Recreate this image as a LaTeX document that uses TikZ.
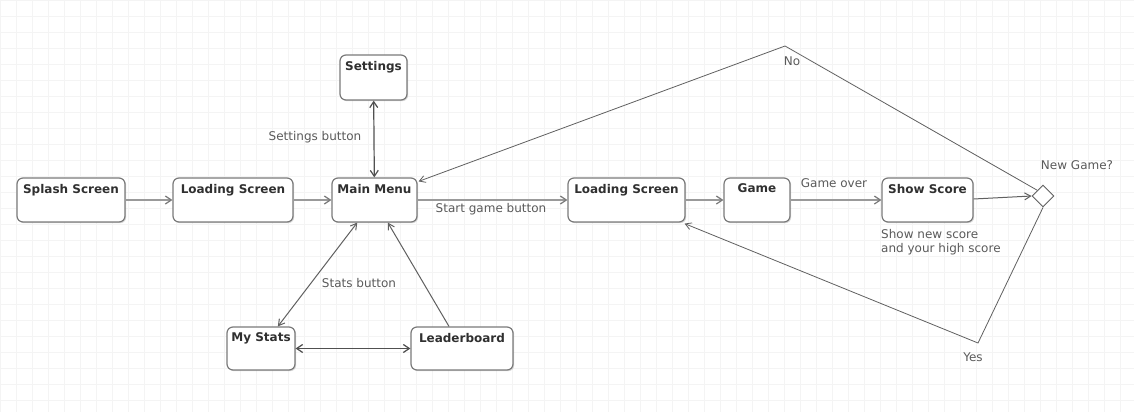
\documentclass[tikz,border=0pt]{standalone}
\usepackage{fontspec}
\setmainfont{DejaVu Sans}
\usetikzlibrary{arrows.meta,shapes.geometric,shadows,calc}
\definecolor{boxline}{HTML}{7A7A7A}
\definecolor{titletext}{HTML}{303030}
\definecolor{labeltext}{HTML}{5A5A5A}
\definecolor{flowline}{HTML}{9A9A9A}
\definecolor{darkline}{HTML}{505050}
\definecolor{thinline}{HTML}{606060}
\definecolor{gridline}{HTML}{F4F4F4}
\begin{document}
\begin{tikzpicture}[x=1pt,y=-1pt,
  statebox/.style={draw=boxline, line width=1.2pt, rounded corners=6pt, fill=white,
    minimum height=44pt, inner sep=0pt,
    drop shadow={shadow xshift=1.2pt, shadow yshift=-1.2pt, opacity=0.25, fill=black!60}},
  title/.style={font=\fontsize{12}{14}\selectfont\bfseries, text=titletext},
  lbl/.style={font=\fontsize{12}{14}\selectfont, text=labeltext, inner sep=0pt},
  flow/.style={draw=flowline, line width=1.6pt, -{Straight Barb[length=6pt,width=8pt,line width=1.2pt,color=boxline]}},
  dflow/.style={draw=darkline, line width=1.2pt, {Straight Barb[length=6pt,width=8pt]}-{Straight Barb[length=6pt,width=8pt]}},
  thin/.style={draw=thinline, line width=0.8pt},
  thinarrow/.style={thin, -{Straight Barb[length=6pt,width=7pt]}}
]
\useasboundingbox (0,0) rectangle (1134,412);
\fill[white] (0,0) rectangle (1134,412);
\draw[gridline, line width=0.6pt, step=16pt] (0,0) grid (1134,412);

% states
\node[statebox, minimum width=108pt, label={[title, anchor=north, yshift=-3pt]north:Splash Screen}] (splash) at (71,200) {};
\node[statebox, minimum width=120pt, label={[title, anchor=north, yshift=-3pt]north:Loading Screen}] (load1) at (233,200) {};
\node[statebox, minimum width=85pt, label={[title, anchor=north, yshift=-3pt]north:Main Menu}] (menu) at (374.5,200) {};
\node[statebox, minimum width=67pt, minimum height=45pt, label={[title, anchor=north, yshift=-3pt]north:Settings}] (settings) at (373.5,77.5) {};
\node[statebox, minimum width=68pt, minimum height=43pt, label={[title, anchor=north, yshift=-3pt]north:My Stats}] (mystats) at (261,348.5) {};
\node[statebox, minimum width=102pt, minimum height=43pt, label={[title, anchor=north, yshift=-3pt]north:Leaderboard}] (leader) at (462,348.5) {};
\node[statebox, minimum width=117pt, label={[title, anchor=north, yshift=-3pt]north:Loading Screen}] (load2) at (626.5,200) {};
\node[statebox, minimum width=66pt, label={[title, anchor=north, yshift=-3pt]north:Game}] (game) at (757,200) {};
\node[statebox, minimum width=91pt, label={[title, anchor=north, yshift=-3pt]north:Show Score}] (score) at (927.5,200) {};
\node[diamond, draw=thinline, line width=0.9pt, fill=white, minimum width=22pt, minimum height=22pt, inner sep=0pt] (dia) at (1043,196) {};

\coordinate (nopeak) at (785,46);
\coordinate (yesvtx) at (978,343);

% connectors
\draw[flow] (splash) -- (load1);
\draw[flow] (load1) -- (menu);
\draw[dflow] (settings) -- (menu);
\draw[flow] (menu) -- (load2);
\draw[flow] (load2) -- (game);
\draw[flow] (game) -- (score);
\draw[thinarrow, line width=1pt] ($(score.east)+(0,-1)$) -- (dia.west);
\draw[thinarrow] (dia.north west) -- (nopeak) -- ($(menu.north east)+(1,4)$);
\draw[thinarrow] (dia.south) -- (yesvtx) -- ($(load2.south east)+(-1,1)$);
\draw[thin, line width=1pt, {Straight Barb[length=6pt,width=7pt]}-{Straight Barb[length=6pt,width=7pt]}] (menu) -- (mystats);
\draw[thinarrow, line width=1pt] (leader) -- (menu);
\draw[dflow] (mystats) -- (leader);

% labels
\node[lbl] (lsettings) at (315,137) {Settings button};
\node[lbl] (lstart) at (491,209) {Start game button};
\node[lbl] (lstats) at (359,283) {Stats button};
\node[lbl] (lover) at (834,183) {Game over};
\node[lbl] (lno) at (792,61) {No};
\node[lbl] (lnew) at (1077,165) {New Game?};
\node[lbl, anchor=west, align=left, font=\fontsize{12}{14}\selectfont] (lshow) at (881,242) {Show new score\\and your high score};
\node[lbl] (lyes) at (973,357) {Yes};
\end{tikzpicture}
\end{document}
